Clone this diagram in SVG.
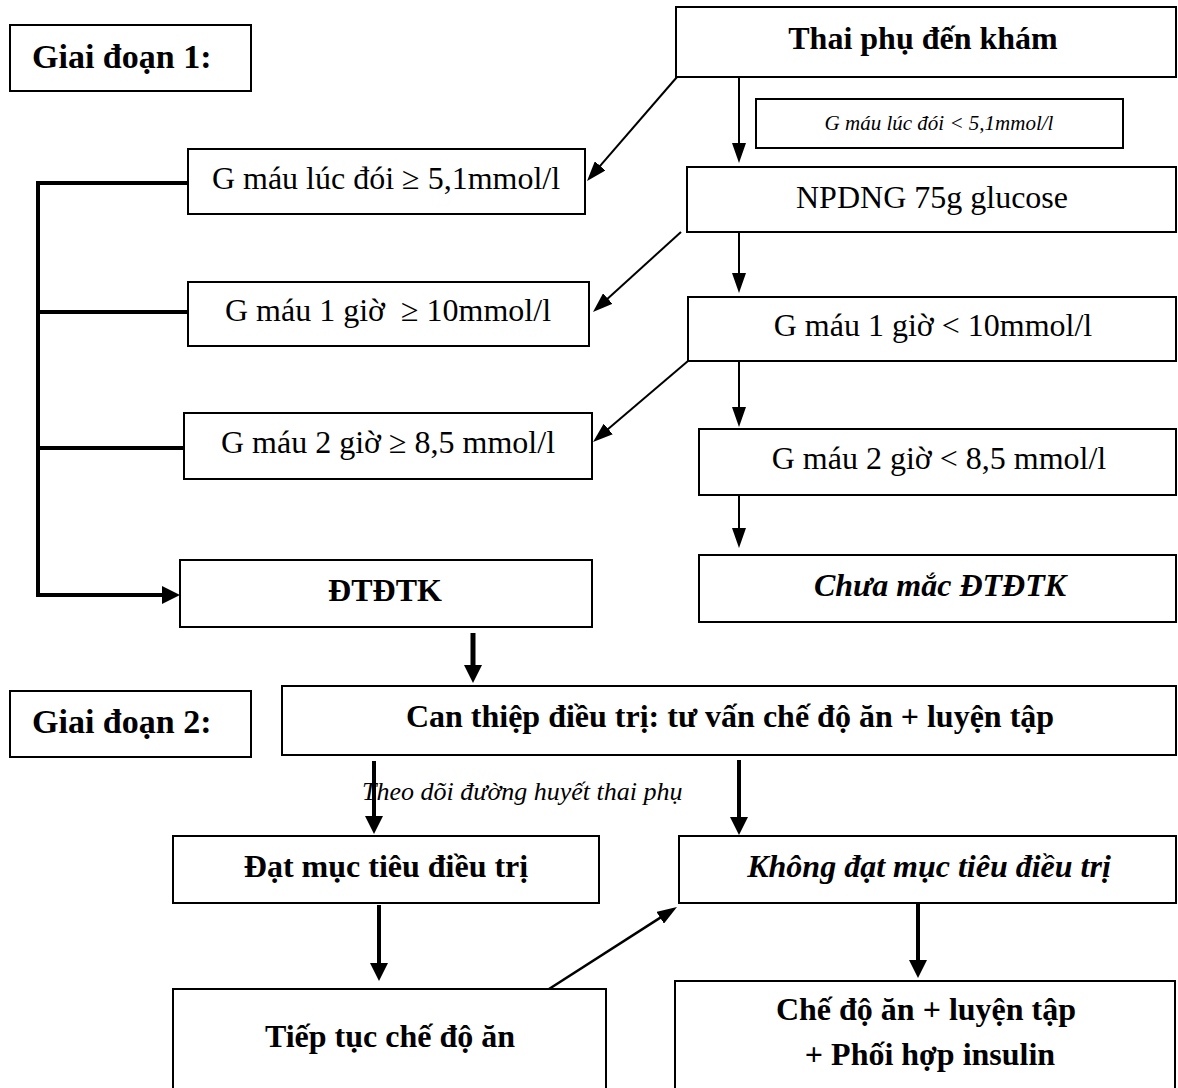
<svg xmlns="http://www.w3.org/2000/svg" width="1178" height="1088" viewBox="0 0 1178 1088">
<defs>
<style>
.box{fill:#fff;stroke:#000;stroke-width:2}
.t{font-family:"Liberation Serif","Times New Roman",serif;font-size:32px;fill:#000;text-anchor:middle}
.b{font-weight:bold}
.i{font-style:italic}
.c{fill:none;stroke:#000;stroke-width:2}
.k{fill:none;stroke:#000;stroke-width:4}
</style>
<marker id="a" markerUnits="userSpaceOnUse" markerWidth="20" markerHeight="14" refX="4" refY="7" orient="auto"><path d="M0,0 L20,7 L0,14 z" fill="#000"/></marker>
<marker id="h" markerUnits="userSpaceOnUse" markerWidth="18" markerHeight="18" refX="4" refY="9" orient="auto"><path d="M0,0 L18,9 L0,18 z" fill="#000"/></marker>
</defs>
<rect width="1178" height="1088" fill="#fff"/>
<g id="connectors">
<line class="c" x1="739" y1="77" x2="739" y2="147" marker-end="url(#a)"/>
<line class="c" x1="677" y1="77" x2="597.5" y2="168.9" marker-end="url(#a)"/>
<line class="c" x1="739" y1="232" x2="739" y2="277" marker-end="url(#a)"/>
<line class="c" x1="681" y1="232" x2="604.8" y2="301.2" marker-end="url(#a)"/>
<line class="c" x1="739" y1="361" x2="739" y2="411" marker-end="url(#a)"/>
<line class="c" x1="688" y1="361" x2="605.2" y2="431.6" marker-end="url(#a)"/>
<line class="c" x1="739" y1="495" x2="739" y2="532" marker-end="url(#a)"/>
<path class="k" d="M188,183 H38 V595 H166" marker-end="url(#h)"/>
<path class="k" d="M188,312 H38"/>
<path class="k" d="M184,448 H38"/>
<line class="k" x1="473" y1="633" x2="473" y2="669" style="stroke-width:5" marker-end="url(#h)"/>
<line class="k" x1="374" y1="761" x2="374" y2="820" marker-end="url(#h)"/>
<line class="k" x1="739" y1="760" x2="739" y2="821" marker-end="url(#h)"/>
<line class="k" x1="379" y1="905" x2="379" y2="967" marker-end="url(#h)"/>
<line class="k" x1="918" y1="903" x2="918" y2="964" marker-end="url(#h)"/>
<line class="c" x1="549" y1="989" x2="663.5" y2="915.6" style="stroke-width:2.5" marker-end="url(#a)"/>
</g>
<g id="stage1"><rect class="box" x="10" y="25" width="241" height="66"/><text class="t b" x="32" y="68" style="text-anchor:start;font-size:34px">Giai đoạn 1:</text></g>
<g id="thaiphu"><rect class="box" x="676" y="7" width="500" height="70"/><text class="t b" x="923" y="49">Thai phụ đến khám</text></g>
<g id="duoi"><rect class="box" x="756" y="99" width="367" height="49"/><text class="t i" x="939" y="130" style="font-size:21px">G máu lúc đói &lt; 5,1mmol/l</text></g>
<g id="npdng"><rect class="box" x="687" y="167" width="489" height="65"/><text class="t" x="932" y="208">NPDNG 75g glucose</text></g>
<g id="doi-cao"><rect class="box" x="188" y="149" width="397" height="65"/><text class="t" x="386" y="189">G máu lúc đói ≥ 5,1mmol/l</text></g>
<g id="g1-cao"><rect class="box" x="188" y="282" width="401" height="64"/><text class="t" x="388" y="321" xml:space="preserve">G máu 1 giờ  ≥ 10mmol/l</text></g>
<g id="g2-cao"><rect class="box" x="184" y="413" width="408" height="66"/><text class="t" x="388" y="453">G máu 2 giờ ≥ 8,5 mmol/l</text></g>
<g id="g1-thap"><rect class="box" x="688" y="297" width="488" height="64"/><text class="t" x="933" y="336">G máu 1 giờ &lt; 10mmol/l</text></g>
<g id="g2-thap"><rect class="box" x="699" y="429" width="477" height="66"/><text class="t" x="939" y="469">G máu 2 giờ &lt; 8,5 mmol/l</text></g>
<g id="dtdtk"><rect class="box" x="180" y="560" width="412" height="67"/><text class="t b" x="385" y="601">ĐTĐTK</text></g>
<g id="chuamac"><rect class="box" x="699" y="555" width="477" height="67"/><text class="t b i" x="940" y="596">Chưa mắc ĐTĐTK</text></g>
<g id="stage2"><rect class="box" x="10" y="691" width="241" height="66"/><text class="t b" x="32" y="733" style="text-anchor:start;font-size:34px">Giai đoạn 2:</text></g>
<g id="canthiep"><rect class="box" x="282" y="686" width="894" height="69"/><text class="t b" x="730" y="727">Can thiệp điều trị: tư vấn chế độ ăn + luyện tập</text></g>
<g id="theodoi-label"><text class="t i" x="362" y="800" style="text-anchor:start;font-size:26px">Theo dõi đường huyết thai phụ</text></g>
<g id="dat"><rect class="box" x="173" y="836" width="426" height="67"/><text class="t b" x="386" y="877">Đạt mục tiêu điều trị</text></g>
<g id="khongdat"><rect class="box" x="679" y="836" width="497" height="67"/><text class="t b i" x="929" y="877">Không đạt mục tiêu điều trị</text></g>
<g id="tieptuc"><rect class="box" x="173" y="989" width="433" height="120"/><text class="t b" x="390" y="1047">Tiếp tục chế độ ăn</text></g>
<g id="insulin"><rect class="box" x="675" y="981" width="500" height="130"/><text class="t b" x="926" y="1020">Chế độ ăn + luyện tập</text><text class="t b" x="930" y="1065">+ Phối hợp insulin</text></g>
</svg>
